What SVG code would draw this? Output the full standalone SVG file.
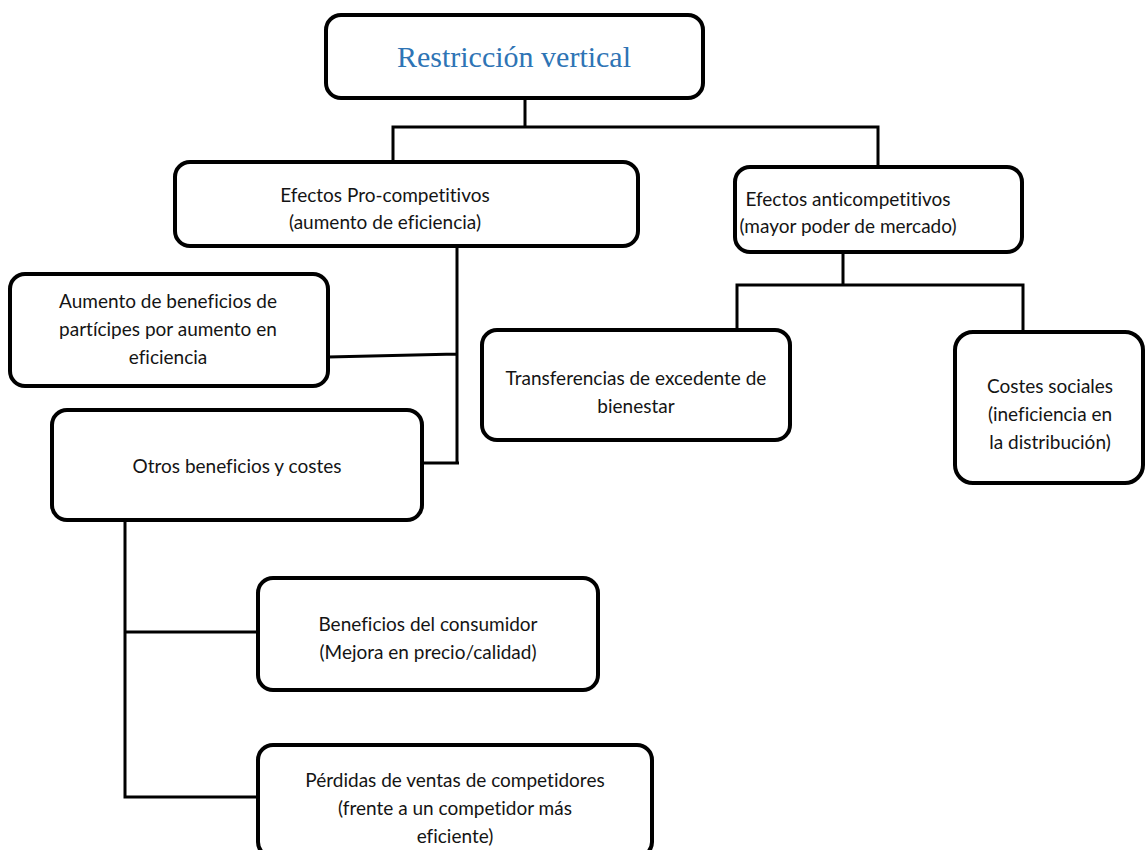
<svg xmlns="http://www.w3.org/2000/svg" width="1146" height="850" viewBox="0 0 1146 850">
  <style>
    .box { fill: #ffffff; stroke: #000000; stroke-width: 4; }
    .wire { fill: none; stroke: #000000; stroke-width: 3; }
    .lbl { font-family: Lato, "Liberation Sans", sans-serif; font-size: 19px; fill: #141414; text-anchor: middle; font-variant-ligatures: none; }
    .title { font-family: "Liberation Serif", serif; font-size: 30px; fill: #2e74b5; text-anchor: middle; }
  </style>
  <rect width="1146" height="850" fill="#ffffff"/>

  <!-- connectors -->
  <g id="connectors">
    <path class="wire" d="M525 98 V127 M393 162 V127 H878 V167"/>
    <path class="wire" d="M457 246 V463 M328 357 L457 354 M422 463 H459"/>
    <path class="wire" d="M843 252 V285 M737 330 V285 H1023 V332"/>
    <path class="wire" d="M125 520 V797 H258 M125 632 H258"/>
  </g>

  <g id="n-root">
    <rect class="box" x="326" y="15" width="377" height="83" rx="15"/>
    <text class="title" x="514" y="67">Restricción vertical</text>
  </g>

  <g id="n-pro">
    <rect class="box" x="175" y="162" width="463" height="84" rx="15"/>
    <text class="lbl" x="385" y="202">Efectos Pro-competitivos</text>
    <text class="lbl" x="385" y="229">(aumento de eficiencia)</text>
  </g>

  <g id="n-anti">
    <rect class="box" x="735" y="167" width="287" height="85" rx="15"/>
    <text class="lbl" x="848" y="206">Efectos anticompetitivos</text>
    <text class="lbl" x="848" y="233">(mayor poder de mercado)</text>
  </g>

  <g id="n-aumento">
    <rect class="box" x="10" y="274" width="318" height="112" rx="15"/>
    <text class="lbl" x="168" y="308">Aumento de beneficios de</text>
    <text class="lbl" x="168" y="336">partícipes por aumento en</text>
    <text class="lbl" x="168" y="364">eficiencia</text>
  </g>

  <g id="n-otros">
    <rect class="box" x="52" y="410" width="370" height="110" rx="15"/>
    <text class="lbl" x="237" y="473">Otros beneficios y costes</text>
  </g>

  <g id="n-transfer">
    <rect class="box" x="482" y="330" width="308" height="110" rx="15"/>
    <text class="lbl" x="636" y="385">Transferencias de excedente de</text>
    <text class="lbl" x="636" y="413">bienestar</text>
  </g>

  <g id="n-costes">
    <rect class="box" x="955" y="332" width="188" height="151" rx="18"/>
    <text class="lbl" x="1050" y="393">Costes sociales</text>
    <text class="lbl" x="1050" y="421">(ineficiencia en</text>
    <text class="lbl" x="1050" y="449">la distribución)</text>
  </g>

  <g id="n-consumidor">
    <rect class="box" x="258" y="578" width="340" height="112" rx="15"/>
    <text class="lbl" x="428" y="631">Beneficios del consumidor</text>
    <text class="lbl" x="428" y="659">(Mejora en precio/calidad)</text>
  </g>

  <g id="n-perdidas">
    <rect class="box" x="258" y="745" width="394" height="112" rx="15"/>
    <text class="lbl" x="455" y="787">Pérdidas de ventas de competidores</text>
    <text class="lbl" x="455" y="815">(frente a un competidor más</text>
    <text class="lbl" x="455" y="843">eficiente)</text>
  </g>
</svg>
